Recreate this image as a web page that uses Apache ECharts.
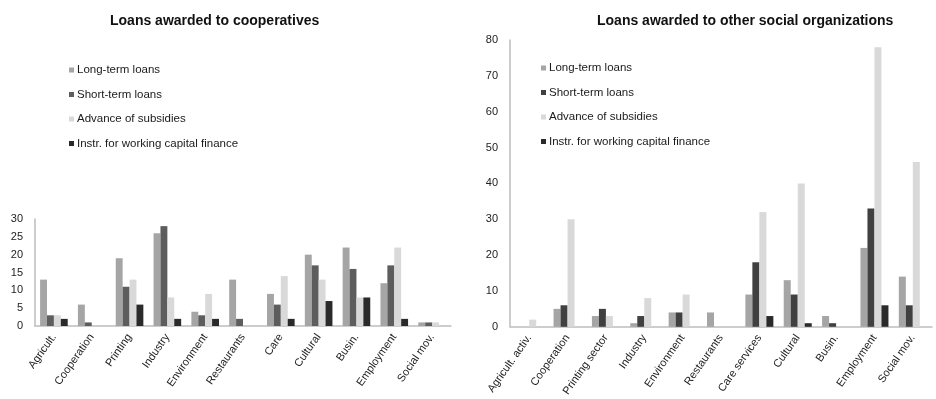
<!DOCTYPE html>
<html>
<head>
<meta charset="utf-8">
<script src="https://cdn.jsdelivr.net/npm/echarts@6/dist/echarts.min.js"></script>
<style>
  html, body { margin: 0; padding: 0; background: #fff; }
  #wrap { position: relative; width: 936px; height: 399px; }
  #left { position: absolute; left: 0; top: 0; width: 468px; height: 399px; }
  #right { position: absolute; left: 468px; top: 0; width: 468px; height: 399px; }
</style>
</head>
<body>
<div id="wrap">
  <div id="left"></div>
  <div id="right"></div>
</div>
<script>
// Series names shared by both panels
const seriesNames = ['Long-term loans', 'Short-term loans', 'Advance of subsidies', 'Instr. for working capital finance'];

// Cooperatives panel
const coopCategories = ['Agricult.', 'Cooperation', 'Printing', 'Industry', 'Environment', 'Restaurants', 'Care', 'Cultural', 'Busin.', 'Employment', 'Social mov.'];
const coopLongTerm   = [13, 6, 19, 26, 4, 13, 9, 20, 22, 12, 1];
const coopShortTerm  = [3, 1, 11, 28, 3, 2, 6, 17, 16, 17, 1];
const coopSubsidies  = [3, 0, 13, 8, 9, 0, 14, 13, 8, 22, 1];
const coopWorkingCap = [2, 0, 6, 2, 2, 0, 2, 7, 8, 2, 0];

// Other social organizations panel
const otherCategories = ['Agricult. activ.', 'Cooperation', 'Printing sector', 'Industry', 'Environment', 'Restaurants', 'Care services', 'Cultural', 'Busin.', 'Employment', 'Social mov.'];
const otherLongTerm   = [0, 5, 3, 1, 4, 4, 9, 13, 3, 22, 14];
const otherShortTerm  = [0, 6, 5, 3, 4, 0, 18, 9, 1, 33, 6];
const otherSubsidies  = [2, 30, 3, 8, 9, 0, 32, 40, 0, 78, 46];
const otherWorkingCap = [0, 0, 0, 0, 0, 0, 3, 1, 0, 6, 0];

const FONT = 'Liberation Sans, Arial, sans-serif';

function buildOption(cfg) {
  const values = cfg.values;
  return {
    animation: false,
    textStyle: { fontFamily: FONT },
    title: {
      text: cfg.title,
      left: cfg.titleLeft,
      top: 9,
      textStyle: { fontFamily: FONT, fontSize: 14, fontWeight: 'bold', color: '#111' }
    },
    legend: {
      orient: 'vertical',
      left: cfg.legendLeft,
      top: cfg.legendTop,
      itemWidth: 5,
      itemHeight: 5,
      itemGap: 12.5,
      icon: 'rect',
      textStyle: { fontFamily: FONT, fontSize: 11.5, color: '#1a1a1a', padding: [0, 0, 0, -2] },
      data: seriesNames.map((n, i) => ({ name: n, itemStyle: { color: cfg.colors[i] } }))
    },
    grid: {
      left: cfg.grid.left,
      right: cfg.grid.right,
      top: cfg.grid.top,
      bottom: cfg.grid.bottom,
      containLabel: false
    },
    xAxis: {
      type: 'category',
      data: cfg.categories,
      axisLine: { lineStyle: { color: '#bdbdbd', width: 1.5 } },
      axisTick: { show: false },
      axisLabel: {
        rotate: 55,
        interval: 0,
        margin: 9,
        fontFamily: FONT,
        fontSize: 11,
        color: '#222'
      }
    },
    yAxis: {
      type: 'value',
      min: 0,
      max: cfg.yMax,
      interval: cfg.yInterval,
      axisLine: { show: true, lineStyle: { color: '#bdbdbd', width: 1.5 } },
      axisTick: { show: false },
      splitLine: { show: false },
      axisLabel: { fontFamily: FONT, fontSize: 11, color: '#222', margin: 12 }
    },
    series: seriesNames.map((n, i) => ({
      name: n,
      type: 'bar',
      data: values[i],
      barGap: '0%',
      barCategoryGap: '27%',
      itemStyle: { color: cfg.colors[i] }
    }))
  };
}

const leftChart = echarts.init(document.getElementById('left'), null, { renderer: 'canvas' });
leftChart.setOption(buildOption({
  title: 'Loans awarded to cooperatives',
  titleLeft: 105,
  legendLeft: 64,
  legendTop: 59,
  grid: { left: 35, right: 17, top: 219, bottom: 73 },
  categories: coopCategories,
  values: [coopLongTerm, coopShortTerm, coopSubsidies, coopWorkingCap],
  colors: ['#a5a5a5', '#5d5d5d', '#d9d9d9', '#2a2a2a'],
  yMax: 30,
  yInterval: 5
}));

const rightChart = echarts.init(document.getElementById('right'), null, { renderer: 'canvas' });
rightChart.setOption(buildOption({
  title: 'Loans awarded to other social organizations',
  titleLeft: 124,
  legendLeft: 68,
  legendTop: 57,
  grid: { left: 42, right: 4, top: 40, bottom: 72 },
  categories: otherCategories,
  values: [otherLongTerm, otherShortTerm, otherSubsidies, otherWorkingCap],
  colors: ['#a5a5a5', '#404040', '#d9d9d9', '#2a2a2a'],
  yMax: 80,
  yInterval: 10
}));
</script>
</body>
</html>
